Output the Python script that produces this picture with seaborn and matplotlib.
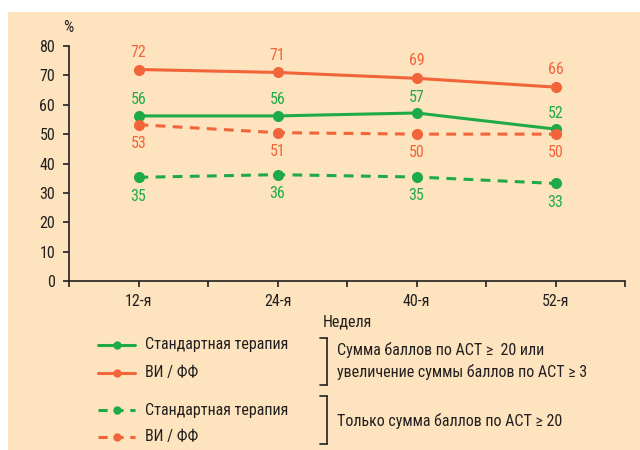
import matplotlib
matplotlib.use("Agg")
import matplotlib.pyplot as plt
import seaborn as sns
import pandas as pd
from matplotlib.lines import Line2D
from matplotlib.patches import Rectangle

weeks = ["12-я", "24-я", "40-я", "52-я"]
std_a = [56, 56, 57, 52]      # Стандартная терапия, ACT>=20 or +3
vi_a = [72, 71, 69, 66]       # ВИ / ФФ, ACT>=20 or +3
std_b = [35, 36, 35, 33]      # Стандартная терапия, only ACT>=20
vi_b = [53, 51, 50, 50]       # ВИ / ФФ, only ACT>=20
std_a_plot = [56.2, 56.2, 57.2, 51.7]
vi_b_plot = [53.2, 50.5, 50.0, 50.0]
std_b_plot = [35.3, 36.2, 35.4, 33.2]
y_ticks = [0, 10, 20, 30, 40, 50, 60, 70, 80]
legend_labels = ["Стандартная терапия", "ВИ / ФФ"]
group_labels = ["Сумма баллов по АСТ ≥  20 или\nувеличение суммы баллов по АСТ ≥ 3",
                "Только сумма баллов по АСТ ≥ 20"]

sns.set_theme(style="ticks")
plt.rcParams['font.family'] = ['Roboto Condensed', 'DejaVu Sans']

GREEN = "#1FAA48"
ORANGE = "#F2643A"
BG = "#FDE4BE"
TXT = "#231F20"
FS = 11.5

fig = plt.figure(figsize=(6.4, 4.5), dpi=100)
fig.patch.set_facecolor("white")
W, H = 640, 450
fig.patches.append(Rectangle((8/W, 0), 1, 1 - 12/H, transform=fig.transFigure,
                             facecolor=BG, edgecolor="none", zorder=-10))

ax = fig.add_axes([69/W, 1 - 281/H, (625-69)/W, (281-46)/H])
ax.set_facecolor("none")

series = [
    (vi_a, vi_a, ORANGE, "-", 12.5),
    (std_a_plot, std_a, GREEN, "-", 11.5),
    (vi_b_plot, vi_b, ORANGE, "--", -13.5),
    (std_b_plot, std_b, GREEN, "--", -13.5),
]
for yv, lab, col, ls, off in series:
    df = pd.DataFrame({"week": weeks, "val": yv})
    sns.lineplot(data=df, x="week", y="val", ax=ax, color=col, linewidth=2.2,
                 marker="o", markersize=8, markeredgewidth=0, sort=False)
    line = ax.lines[-1]
    if ls == "--":
        line.set_dashes((3.2, 2.4))
    for i, (v, l) in enumerate(zip(yv, lab)):
        ax.annotate(str(l), (i, v), xytext=(0, off), textcoords="offset points",
                    ha="center", va="center", color=col, fontsize=FS)

ax.set_xlim(-0.5, 3.5)
ax.set_ylim(0, 80)
ax.set_yticks(y_ticks)
ax.set_xticks(range(4))
ax.set_xticklabels(weeks)
ax.set_xticks([-0.5, 0.5, 1.5, 2.5, 3.5], minor=True)
ax.tick_params(axis="x", which="minor", length=4, width=1.2, color=TXT, direction="out")
ax.tick_params(axis="both", which="major", length=4, width=1.2, color=TXT,
               labelsize=FS, labelcolor=TXT, pad=5)
ax.tick_params(axis="y", pad=6)
ax.set_xlabel("Неделя", fontsize=FS, color=TXT, labelpad=4)
ax.set_ylabel("")
for s in ["top", "right"]:
    ax.spines[s].set_visible(False)
for s in ["left", "bottom"]:
    ax.spines[s].set_color(TXT)
    ax.spines[s].set_linewidth(1.2)
fig.text(68/W, 1 - 27/H, "%", ha="center", va="center", fontsize=FS, color=TXT)

# legend keys and labels
def fy(py):
    return 1 - py / H

rows = [(345, GREEN, None), (373, ORANGE, None), (410, GREEN, (3, 2.2)), (437, ORANGE, (3, 2.2))]
for k, (py, col, dash) in enumerate(rows):
    ln = Line2D([98/W, 135/W], [fy(py), fy(py)], color=col, lw=2.2, transform=fig.transFigure)
    if dash:
        ln.set_dashes(dash)
    fig.add_artist(ln)
    fig.add_artist(Line2D([117/W], [fy(py)], color=col, marker="o", ms=6, mew=0,
                          linestyle="none", transform=fig.transFigure))
    fig.text(145/W, fy(py), legend_labels[k % 2], ha="left", va="center",
             fontsize=FS, color=TXT)

def bracket(y0, y1):
    x = 327 / W
    fig.add_artist(Line2D([x, x], [fy(y0), fy(y1)], color=TXT, lw=1.2, transform=fig.transFigure))
    for yy in (y0, y1):
        fig.add_artist(Line2D([320/W, x], [fy(yy), fy(yy)], color=TXT, lw=1.2, transform=fig.transFigure))

bracket(338, 385)
bracket(396, 444)
fig.text(337/W, fy(361), group_labels[0], ha="left", va="center", fontsize=FS,
         color=TXT, linespacing=1.45)
fig.text(337/W, fy(421), group_labels[1], ha="left", va="center", fontsize=FS, color=TXT)

fig.savefig("out.png", dpi=100, facecolor=fig.get_facecolor())
